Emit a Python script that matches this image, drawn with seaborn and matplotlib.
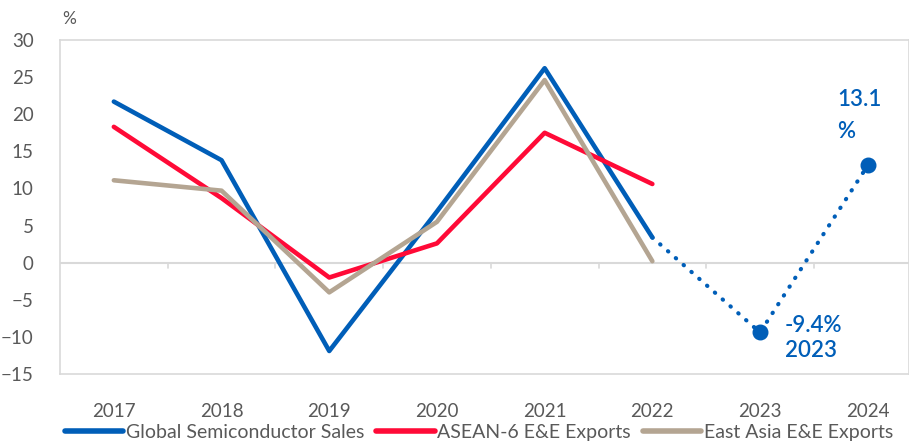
import matplotlib
matplotlib.use('Agg')
import matplotlib.pyplot as plt
import pandas as pd
import seaborn as sns

years = [2017, 2018, 2019, 2020, 2021, 2022]
global_semi = [21.7, 13.8, -11.9, 6.9, 26.2, 3.4]
asean_ee = [18.3, 8.7, -2.0, 2.6, 17.5, 10.6]
east_asia_ee = [11.1, 9.7, -4.0, 5.5, 24.6, 0.2]

forecast_years = [2022, 2023, 2024]
forecast_semi = [3.4, -9.4, 13.1]

all_years = [2017, 2018, 2019, 2020, 2021, 2022, 2023, 2024]
series_names = ['Global Semiconductor Sales', 'ASEAN-6 E&E Exports', 'East Asia E&E Exports']
colors = ['#005EB8', '#FF0A37', '#B4A592']

df = pd.DataFrame({
    'year': years * 3,
    'value': global_semi + asean_ee + east_asia_ee,
    'series': sum([[n] * len(years) for n in series_names], []),
})
fc = pd.DataFrame({'year': forecast_years, 'value': forecast_semi})

sns.set_style('white')
plt.rcParams['font.family'] = ['Lato', 'DejaVu Sans']

fig = plt.figure(figsize=(9.09, 4.45), dpi=100)
ax = fig.add_axes([60 / 909, 1 - 374 / 445, 849 / 909, 334 / 445])

sns.lineplot(data=df, x='year', y='value', hue='series', hue_order=series_names,
             palette=colors, linewidth=3.3, ax=ax, legend=True)
sns.lineplot(data=fc, x='year', y='value', color=colors[0], linewidth=3.0,
             linestyle=(0, (0.1, 2.4)), ax=ax)
ax.lines[-1].set_dash_capstyle('round')
ax.scatter(forecast_years[1:], forecast_semi[1:], s=110, color=colors[0], zorder=5)

ax.set_xlim(2016.5, 2016.5 + 849 / 107.7)
ax.set_ylim(-15, 30)
ax.set_yticks(range(-15, 31, 5))
ax.set_xticks(all_years)
ax.set_xticklabels([str(y) for y in all_years])
ax.tick_params(axis='both', length=0, labelsize=13.5, labelcolor='#595959')
ax.tick_params(axis='x', pad=21)
ax.tick_params(axis='y', pad=19)
ax.set_xlabel('')
ax.set_ylabel('')

for s in ax.spines.values():
    s.set_color('#D9D9D9')
    s.set_linewidth(1.2)

ax.axhline(0, color='#D9D9D9', lw=1.5, zorder=0)
for b in all_years[:-1]:
    ax.plot([b + 0.5, b + 0.5], [0, -0.75], color='#D9D9D9', lw=1.2, zorder=0)

fig.text(62 / 909, 1 - 19 / 445, '%', fontsize=12.5, color='#595959', va='center')

ax.annotate('13.1\n%', (2024, 13.1), xytext=(-22, 17), textcoords='offset points',
            fontsize=16, color=colors[0], fontweight='semibold', ha='left', va='bottom',
            linespacing=1.65)
ax.annotate('-9.4%\n2023', (2023, -9.4), xytext=(18, -4), textcoords='offset points',
            fontsize=16, color=colors[0], fontweight='semibold', ha='left', va='center',
            linespacing=1.2)

handles, labels = ax.get_legend_handles_labels()
ax.get_legend().remove()
leg = fig.legend(handles[:3], labels[:3], loc='lower center', ncol=3,
                 bbox_to_anchor=(0.527, -0.03), frameon=False, fontsize=14,
                 handlelength=3.0, handletextpad=0.15, columnspacing=0.6)
for t in leg.get_texts():
    t.set_color('#595959')
for h in leg.get_lines():
    h.set_linewidth(4)

fig.savefig('out.png', dpi=100)
